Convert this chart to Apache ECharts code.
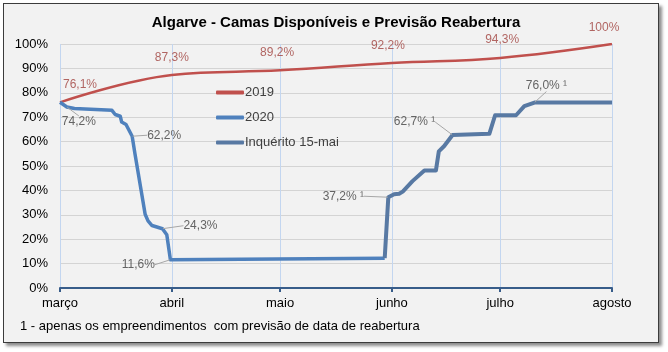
<!DOCTYPE html>
<html>
<head>
<meta charset="utf-8">
<script src="https://cdn.jsdelivr.net/npm/echarts@6/dist/echarts.min.js"></script>
<style>
  html, body { margin: 0; padding: 0; background: #ffffff; }
  #frame {
    position: absolute; left: 3px; top: 3px; width: 656px; height: 340px;
    box-sizing: border-box; border: 1px solid #3c3c3c; background: #f2f2f2;
    box-shadow: 3px 3px 3px #8c8c8c;
  }
  #chart { position: absolute; left: 0; top: 0; width: 668px; height: 352px; }
</style>
</head>
<body>
<div id="frame"></div>
<div id="chart"></div>
<script>
// x axis: days counted from 1 March
const months = ['março', 'abril', 'maio', 'junho', 'julho', 'agosto']
const monthStarts = [0, 31, 61, 92, 122, 153]

const days2019 = [0, 31, 61, 92, 122, 153]
const values2019 = [76.1, 87.3, 89.2, 92.2, 94.3, 100]

const days2020 = [0, 1.9, 4, 14.4, 15.3, 16.7, 17.1, 18.3, 20, 20.8, 23.6, 24.4, 25.5, 28.4, 29.6, 30.6, 60, 90]
const values2020 = [76.1, 74.2, 73.6, 72.8, 71.1, 70.4, 68.0, 67.0, 62.2, 54.8, 30.2, 27.5, 25.6, 24.3, 21.8, 11.6, 11.9, 12.2]
const labelled2020 = [1, 8, 13, 15]

const daysSurvey = [90, 91, 92.6, 94, 95, 97.7, 101, 104.2, 105, 106.5, 108.8, 119, 120.6, 126.4, 128.7, 131.5, 153]
const valuesSurvey = [12.2, 37.2, 38.4, 38.6, 39.5, 43.8, 48.2, 48.2, 56.0, 58.2, 62.7, 63.2, 70.8, 70.8, 74.5, 76.0, 76.0]
const labelledSurvey = [1, 10, 15]

const yTicks = [0, 10, 20, 30, 40, 50, 60, 70, 80, 90, 100]

const fmt = (v, note) => {
  const s = v === 100 ? '100%' : v.toFixed(1).replace('.', ',') + '%'
  return note ? s + ' ¹' : s
}
const pairs = (xs, ys) => xs.map((x, i) => [x, ys[i]])

// label offsets (label centre relative to the point)
const off2019 = [[20, -18], [0, -17], [-3, -18], [-4, -17], [2, -18], [-8, -16]]
const off2020 = [[12, 15], [32, -1], [38, -3], [-32, 5]]
const offSurvey = [[-45, -1], [-38, -13], [12, -17]]

const chart = echarts.init(document.getElementById('chart'))

const font = 'Liberation Sans, Arial, sans-serif'

const labelSeries = (data, offsets, color, withLine, note) => ({
  type: 'scatter',
  data: data,
  symbolSize: 1,
  itemStyle: { color: 'rgba(0,0,0,0)' },
  silent: true,
  z: 5,
  label: {
    show: true,
    position: 'inside',
    fontFamily: font,
    fontSize: 12,
    color: color,
    formatter: p => fmt(p.value[1], note)
  },
  labelLayout: p => ({ dx: offsets[p.dataIndex][0], dy: offsets[p.dataIndex][1] }),
  labelLine: { show: withLine, lineStyle: { color: '#a6a6a6', width: 1 } }
})

const option = {
  animation: false,
  backgroundColor: 'transparent',
  textStyle: { fontFamily: font },
  title: {
    text: 'Algarve - Camas Disponíveis e Previsão Reabertura',
    left: 331,
    textAlign: 'center',
    top: 10,
    textStyle: { fontFamily: font, fontSize: 15, fontWeight: 'bold', color: '#000' }
  },
  legend: {
    orient: 'vertical',
    left: 211,
    top: 81,
    icon: 'roundRect',
    itemWidth: 28,
    itemHeight: 4,
    itemGap: 12,
    data: ['2019', '2020', 'Inquérito 15-mai'],
    textStyle: { fontFamily: font, fontSize: 13, color: '#404040', padding: [0, 0, 0, -4] }
  },
  grid: { left: 60, right: 56, top: 44, bottom: 64 },
  xAxis: {
    type: 'value',
    min: 0,
    max: 153,
    interval: 7,
    axisLine: { lineStyle: { color: '#385d8a', width: 2 } },
    axisTick: { customValues: monthStarts, length: 4, lineStyle: { color: '#385d8a', width: 2 } },
    axisLabel: {
      customValues: monthStarts,
      formatter: v => months[monthStarts.indexOf(v)],
      fontFamily: font,
      fontSize: 13,
      color: '#000',
      margin: 9
    },
    splitLine: { show: true, lineStyle: { color: '#c3d6f0', width: 1 } }
  },
  yAxis: {
    type: 'value',
    min: 0,
    max: 100,
    interval: 10,
    axisLine: { show: false },
    axisTick: { show: false },
    axisLabel: {
      formatter: v => yTicks.includes(v) ? v + '%' : '',
      fontFamily: font,
      fontSize: 13,
      color: '#000',
      margin: 12
    },
    splitLine: { lineStyle: { color: '#d4d4d4', width: 1 } }
  },
  series: [
    {
      name: '2019',
      type: 'line',
      smooth: 0.4,
      symbol: 'none',
      data: pairs(days2019, values2019),
      lineStyle: { color: '#c0504d', width: 2.5 },
      itemStyle: { color: '#c0504d' },
      z: 3
    },
    {
      name: '2020',
      type: 'line',
      symbol: 'none',
      data: pairs(days2020, values2020),
      lineStyle: { color: '#4f81bd', width: 3.5, join: 'round' },
      itemStyle: { color: '#4f81bd' },
      z: 3
    },
    {
      name: 'Inquérito 15-mai',
      type: 'line',
      symbol: 'none',
      data: pairs(daysSurvey, valuesSurvey),
      lineStyle: { color: '#5879a3', width: 4, join: 'round' },
      itemStyle: { color: '#5879a3' },
      z: 3
    },
    labelSeries(pairs(days2019, values2019), off2019, '#a0413d', false, false),
    labelSeries(labelled2020.map(i => [days2020[i], values2020[i]]), off2020, '#404040', true, false),
    labelSeries(labelledSurvey.map(i => [daysSurvey[i], valuesSurvey[i]]), offSurvey, '#404040', true, true)
  ],
  graphic: [
    {
      type: 'text',
      left: 20,
      top: 320,
      style: {
        text: '1 - apenas os empreendimentos  com previsão de data de reabertura',
        font: '13px ' + font,
        fill: '#000'
      }
    }
  ]
}

chart.setOption(option)
</script>
</body>
</html>
